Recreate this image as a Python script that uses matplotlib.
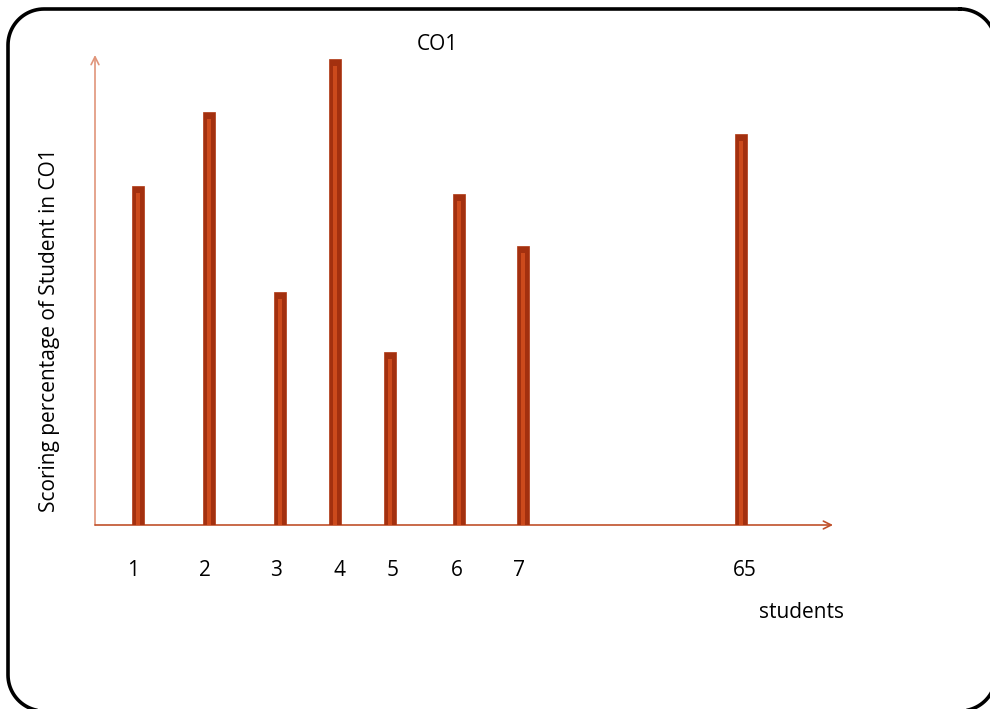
import matplotlib
matplotlib.use("Agg")
import matplotlib.pyplot as plt
import numpy as np

# Data
categories = ["1", "2", "3", "4", "5", "6", "7", "65"]
values = [72.1, 87.9, 49.6, 99.1, 36.8, 70.4, 59.4, 83.2]

# Layout (pixel-like positions along x axis)
bar_pos = [43, 114, 185, 240, 295, 364, 428, 646]
label_pos = [38, 110, 181, 244, 298, 362, 424, 650]

W, H = 990, 709
fig = plt.figure(figsize=(W / 100, H / 100), dpi=100)
plt.rcParams['font.family'] = ['Open Sans', 'DejaVu Sans']

# background axes in pixel units for the rounded border
bg = fig.add_axes([0, 0, 1, 1])
bg.set_xlim(0, W)
bg.set_ylim(H, 0)
bg.axis("off")
x0, y0, x1, y1, r = 8, 9, 996, 711, 36
pts = []
for (cx, cy, a0) in [(x1 - r, y0 + r, -90), (x1 - r, y1 - r, 0),
                     (x0 + r, y1 - r, 90), (x0 + r, y0 + r, 180)]:
    t = np.radians(np.linspace(a0, a0 + 90, 24))
    pts.extend(zip(cx + r * np.cos(t), cy + r * np.sin(t)))
pts.append(pts[0])
px, py = zip(*pts)
bg.plot(px, py, color="black", linewidth=2.6, solid_joinstyle="round")

left, right, top, bottom = 95, 833, 55, 525
ax = fig.add_axes([left / W, 1 - bottom / H, (right - left) / W, (bottom - top) / H])
ax.patch.set_alpha(0)
ax.set_xlim(0, right - left)
ax.set_ylim(0, 100)
for s in ax.spines.values():
    s.set_visible(False)
ax.set_yticks([])
ax.set_xticks(label_pos)
ax.set_xticklabels(categories, fontsize=15)
ax.tick_params(axis='x', length=0, pad=25)

ax.bar(bar_pos, values, width=12, color="#A3300F", edgecolor="#B03812", linewidth=0.5, zorder=3)
ax.bar(bar_pos, [v - 1.5 for v in values], width=4, color="#CC4A1C", linewidth=0, zorder=4)

# axes arrows
ax.annotate("", xy=(0, 1.0), xytext=(0, 0), xycoords='axes fraction',
            arrowprops=dict(arrowstyle="->", color="#E0957A", lw=1.2,
                            shrinkA=0, shrinkB=0, mutation_scale=14), zorder=2)
ax.annotate("", xy=(1.0, 0), xytext=(0, 0), xycoords='axes fraction',
            arrowprops=dict(arrowstyle="->", color="#C0502A", lw=1.2,
                            shrinkA=0, shrinkB=0, mutation_scale=14), zorder=2)

fig.text(437 / W, 1 - 45 / H, "CO1", ha="center", va="center", fontsize=15)
fig.text(802 / W, 1 - 612 / H, "students", ha="center", va="center", fontsize=15)
fig.text(50 / W, 1 - 330 / H, "Scoring percentage of Student in CO1", ha="center",
         va="center", rotation=90, fontsize=15)

fig.savefig("out.png", dpi=100)
